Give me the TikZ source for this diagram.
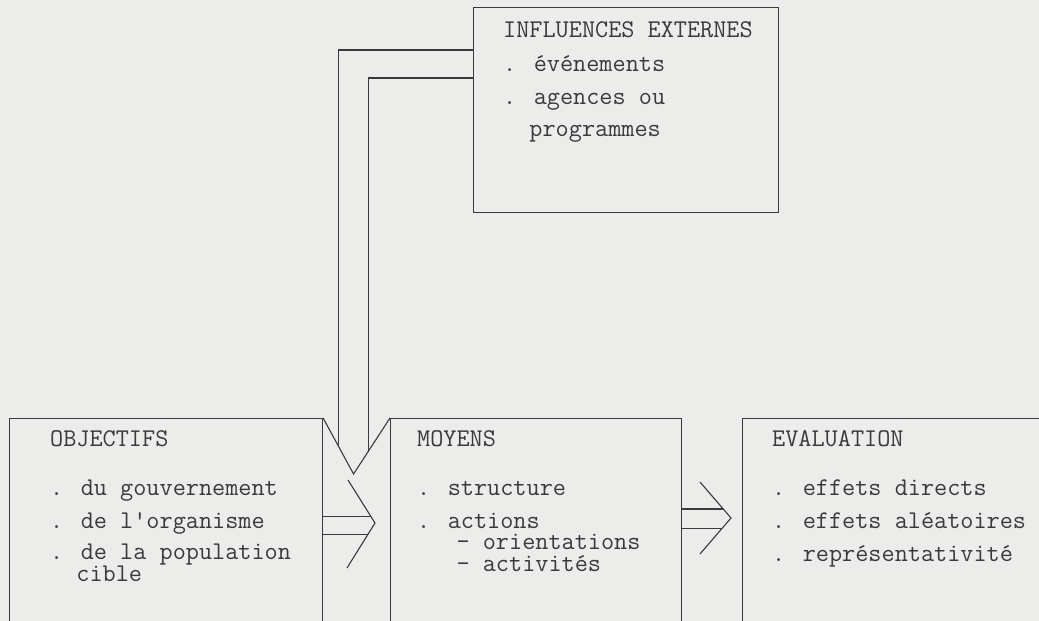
\documentclass[tikz,border=0pt]{standalone}
\usepackage{fontspec}
\usetikzlibrary{positioning,calc}
\definecolor{paper}{HTML}{ECECEA}
\definecolor{ink}{HTML}{3A3A3A}

\begin{document}
\begin{tikzpicture}[
        x=1pt, y=-1pt,
        box/.style={rectangle, draw=ink, line width=1.1pt, anchor=north west, inner sep=0pt, minimum height=240pt},
        txt/.style={anchor=base west, inner sep=0pt, text=ink, font=\ttfamily\fontsize{25.5}{22}\selectfont},
        pipe/.style={draw=ink, line width=1.1pt}
    ]
        \clip (0,0) rectangle (1039,621);
        \fill[paper] (0,0) rectangle (1039,621);

        % cadres
        \node[box, minimum width=305pt, minimum height=205pt] (externes) at (473,7) {};
        \node[box, minimum width=313pt] (objectifs) at (9,418) {};
        \node[box, minimum width=291pt] (moyens) at (390,418) {};
        \node[box, minimum width=340pt] (evaluation) at (742,418) {};

        % influences externes
        \node[txt] (exthead) at ($(externes.north west)+(30,30)$) {INFLUENCES EXTERNES};
        \node[txt] (ext1) at ($(exthead.base west)+(0,34)$) {. événements};
        \node[txt] (ext2) at ($(ext1.base west)+(0,33)$) {. agences ou};
        \node[txt] (ext3) at ($(ext2.base west)+(0,32)$) {\ \ programmes};

        % objectifs
        \node[txt] (objhead) at ($(objectifs.north west)+(41,28)$) {OBJECTIFS};
        \node[txt] (obj1) at ($(objhead.base west)+(0,49)$) {. du gouvernement};
        \node[txt] (obj2) at ($(obj1.base west)+(0,33)$) {. de l'organisme};
        \node[txt] (obj3) at ($(obj2.base west)+(0,31)$) {. de la population};
        \node[txt] (obj4) at ($(obj3.base west)+(0,22)$) {\ \ cible};

        % moyens
        \node[txt] (moyhead) at ($(moyens.north west)+(27,28)$) {MOYENS};
        \node[txt] (moy1) at ($(moyhead.base west)+(0,49)$) {. structure};
        \node[txt] (moy2) at ($(moy1.base west)+(0,33)$) {. actions};
        \node[txt] (moy3) at ($(moy2.base west)+(0,21)$) {\ \ \ - orientations};
        \node[txt] (moy4) at ($(moy3.base west)+(0,22)$) {\ \ \ - activités};

        % evaluation
        \node[txt] (evahead) at ($(evaluation.north west)+(30,28)$) {EVALUATION};
        \node[txt] (eva1) at ($(evahead.base west)+(0,49)$) {. effets directs};
        \node[txt] (eva2) at ($(eva1.base west)+(0,33)$) {. effets aléatoires};
        \node[txt] (eva3) at ($(eva2.base west)+(0,33)$) {. représentativité};

        % influences -> moyens
        \coordinate (tipV) at ($(objectifs.north east)!0.5!(moyens.north west)+(-3,56)$);
        \draw[pipe] (objectifs.north east) -- (tipV) -- (moyens.north west);
        \draw[pipe] ($(externes.north west)+(0,43)$) -| ($(objectifs.north east)!0.5!(tipV)$);
        \draw[pipe] ($(externes.north west)+(0,71)$) -| ($(moyens.north west)!0.6!(tipV)$);

        % objectifs -> moyens
        \coordinate (tipL) at ($(moyens.north west)+(-15,105)$);
        \coordinate (tipLup) at ($(tipL)+(-27,-43)$);
        \coordinate (tipLdown) at ($(tipL)+(-28,45)$);
        \coordinate (lineLa) at ($(tipL)!0.16!(tipLup)$);
        \coordinate (lineLb) at ($(tipL)!0.26!(tipLdown)$);
        \draw[pipe] (tipLup) -- (tipL) -- (tipLdown);
        \draw[pipe] (objectifs.east |- lineLa) -- (lineLa);
        \draw[pipe] (objectifs.east |- lineLb) -- (lineLb);

        % moyens -> evaluation
        \coordinate (tipR) at ($(evaluation.north west)+(-11,100)$);
        \coordinate (tipRup) at ($(tipR)+(-31,-36)$);
        \coordinate (tipRdown) at ($(tipR)+(-31,36)$);
        \coordinate (lineRa) at ($(tipR)!0.25!(tipRup)$);
        \coordinate (lineRb) at ($(tipR)!0.28!(tipRdown)$);
        \draw[pipe] (tipRup) -- (tipR) -- (tipRdown);
        \draw[pipe] (moyens.east |- lineRa) -- (lineRa);
        \draw[pipe] (moyens.east |- lineRb) -- (lineRb);
    \end{tikzpicture}
\end{document}
